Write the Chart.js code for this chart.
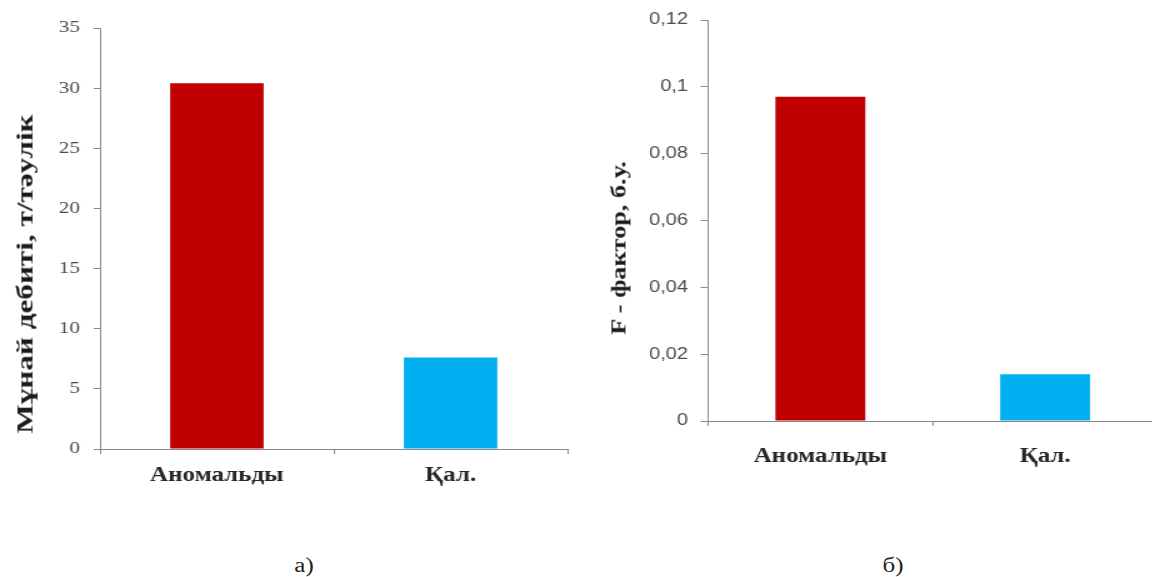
<!DOCTYPE html>
<html>
<head>
<meta charset="utf-8">
<script src="https://cdn.jsdelivr.net/npm/chart.js@4"></script>
<style>
  html, body { margin: 0; padding: 0; background: #fff; }
  body { width: 1152px; height: 577px; position: relative; overflow: hidden; }
  .wrap { position: absolute; top: 0; height: 500px; transform: scaleX(1.25); transform-origin: 0 0; }
  .ytitle { position: absolute; white-space: nowrap; font-family: 'Liberation Serif', serif;
            font-weight: bold; color: #1a1a1a; }
  .caption { position: absolute; font-family: 'Liberation Serif', serif; font-size: 20px;
             color: #222; transform: translate(-50%, -50%) scaleX(1.25); }
</style>
</head>
<body>
<div class="wrap" style="left:0; width:464px;"><canvas id="chartA" width="464" height="500"></canvas></div>
<div class="wrap" style="left:590px; width:456px;"><canvas id="chartB" width="456" height="500"></canvas></div>

<div class="ytitle" style="left:25px; top:274px; font-size:24px; transform: translate(-50%, -50%) rotate(-90deg) scaleX(1.3);">Мұнай дебиті, т/тәулік</div>
<div class="ytitle" style="left:619px; top:248px; font-size:21px; transform: translate(-50%, -50%) rotate(-90deg) scaleX(1.25);">F - фактор, б.у.</div>
<div class="caption" style="left:304px; top:565px;">а)</div>
<div class="caption" style="left:893px; top:565px;">б)</div>

<script>
// categories and values
const categories = ['Аномальды', 'Қал.'];
const oilRate = [30.4, 7.6];        // т/тәулік
const fFactor = [0.097, 0.014];     // б.у.
const barColors = ['#C00000', '#00B0F0'];

const ticksA = [0, 5, 10, 15, 20, 25, 30, 35];
const ticksB = [0, 0.02, 0.04, 0.06, 0.08, 0.1, 0.12];

const AXIS = '#8a8a8a';
const TICK_TEXT = '#4d4d4d';

function makeBar(id, values, yTicks, o) {
  return new Chart(document.getElementById(id), {
    type: 'bar',
    data: {
      labels: categories,
      datasets: [{
        data: values,
        backgroundColor: barColors,
        borderWidth: 0,
        barPercentage: 0.4,
        categoryPercentage: 1,
      }],
    },
    options: {
      responsive: false,
      animation: false,
      devicePixelRatio: 1,
      layout: { padding: { top: o.top, right: o.right, left: 0, bottom: 0 } },
      plugins: { legend: { display: false }, tooltip: { enabled: false } },
      scales: {
        x: {
          afterFit: s => { s.height = o.xHeight; },
          grid: { display: true, drawOnChartArea: false, offset: true, tickLength: 5, color: AXIS },
          border: { color: AXIS, width: 1 },
          ticks: {
            color: '#262626', padding: o.xPad,
            font: { family: 'Liberation Serif', size: 20, weight: 'bold' },
          },
        },
        y: {
          min: yTicks[0],
          max: yTicks[yTicks.length - 1],
          afterFit: s => { s.width = o.yWidth; },
          afterBuildTicks: s => { s.ticks = yTicks.map(v => ({ value: v })); },
          grid: { display: true, drawOnChartArea: false, tickLength: o.tickLen, color: AXIS },
          border: { color: AXIS, width: 1 },
          ticks: {
            color: TICK_TEXT, padding: o.yPad,
            font: o.tickFont,
            callback: v => String(+v.toFixed(2)).replace('.', ','),
          },
        },
      },
    },
  });
}

makeBar('chartA', oilRate, ticksA, {
  top: 28, right: 10, xHeight: 51, yWidth: 80, xPad: 10, yPad: 11, tickLen: 5,
  tickFont: { family: 'Liberation Serif', size: 17 },
});

makeBar('chartB', fFactor, ticksB, {
  top: 20, right: 2, xHeight: 79, yWidth: 94.4, xPad: 19, yPad: 10, tickLen: 6,
  tickFont: { family: 'Liberation Sans', size: 16 },
});
</script>
</body>
</html>
